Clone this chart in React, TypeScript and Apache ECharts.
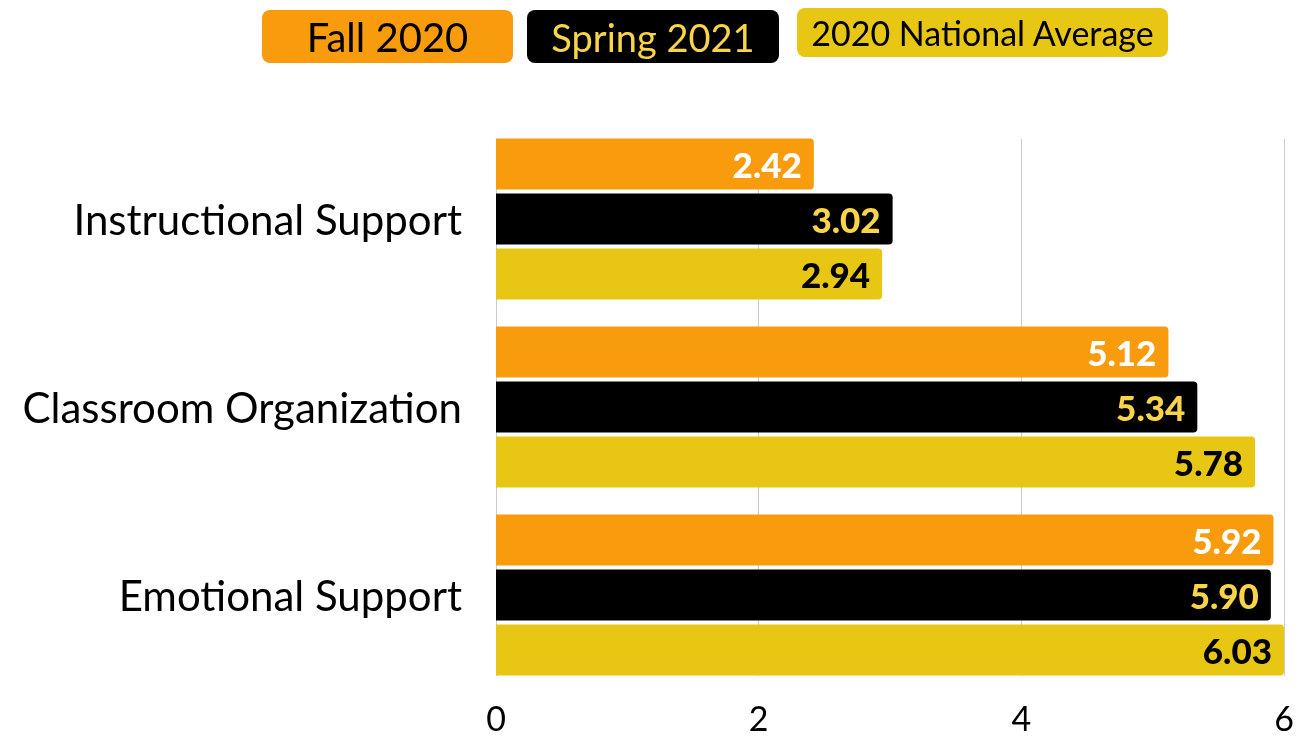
import React, { useEffect, useRef } from "react";
import * as echarts from "echarts";

const categories = ["Instructional Support", "Classroom Organization", "Emotional Support"];
const seriesNames = ["Fall 2020", "Spring 2021", "2020 National Average"];
const fall2020 = [2.42, 5.12, 5.92];
const spring2021 = [3.02, 5.34, 5.9];
const national2020 = [2.94, 5.78, 6.03];
const xTicks = [0, 2, 4, 6];

const ORANGE = "#F89C0E";
const BLACK = "#000000";
const YELLOW = "#E7C614";
const YELLOW_TEXT = "#F8D548";
const FONT = "Lato, 'Open Sans', sans-serif";

export default function App() {
  const ref = useRef<HTMLDivElement>(null);
  useEffect(() => {
    if (!ref.current) return;
    const chart = echarts.init(ref.current, undefined, { renderer: "svg" });
    const label = (color: string) => ({
      show: true,
      position: "insideRight",
      distance: 12,
      color,
      fontFamily: FONT,
      fontWeight: 900,
      fontSize: 35,
      formatter: (p: any) => Number(p.value).toFixed(2),
    });
    const mkSeries = (name: string, data: number[], color: string, lblColor: string) => ({
      name,
      type: "bar",
      data,
      xAxisIndex: 0,
      yAxisIndex: 0,
      barWidth: 51,
      barGap: "8%",
      itemStyle: { color, borderRadius: [0, 4, 4, 0] },
      label: label(lblColor),
    });
    const legendBox = (x: number, y: number, w: number, h: number, fill: string, text: string, tColor: string, fs: number) => ({
      type: "group",
      children: [
        { type: "rect", shape: { x, y, width: w, height: h, r: 8 }, style: { fill } },
        {
          type: "text",
          x: x + w / 2,
          y: y + h / 2,
          style: { text, fill: tColor, fontSize: fs, fontFamily: FONT, align: "center", verticalAlign: "middle" },
        },
      ],
    });
    const xMin = xTicks[0];
    const xMax = xTicks[xTicks.length - 1];
    chart.setOption({
      animation: false,
      grid: [
        { left: 496, right: 13, top: 125, bottom: 53, containLabel: false },
        { left: 496, right: 13, top: 139, bottom: 66, containLabel: false },
      ],
      xAxis: [
        {
          type: "value",
          gridIndex: 0,
          min: xMin,
          max: xMax,
          interval: 2,
          axisLine: { show: false },
          axisTick: { show: false },
          splitLine: { show: false },
          axisLabel: { show: false },
        },
        {
          type: "value",
          gridIndex: 1,
          min: xMin,
          max: xMax,
          interval: 2,
          axisLine: { show: false },
          axisTick: { show: false },
          splitLine: { show: true, lineStyle: { color: "#cccccc", width: 1 } },
          axisLabel: { fontSize: 34, color: "#000", fontFamily: FONT, margin: 24 },
        },
      ],
      yAxis: [
        {
          type: "category",
          gridIndex: 0,
          data: categories,
          inverse: true,
          axisLine: { show: false },
          axisTick: { show: false },
          axisLabel: { fontSize: 42, color: "#000", fontFamily: FONT, margin: 34 },
        },
        {
          type: "category",
          gridIndex: 1,
          data: categories,
          inverse: true,
          show: false,
        },
      ],
      series: [
        mkSeries(seriesNames[0], fall2020, ORANGE, "#ffffff"),
        mkSeries(seriesNames[1], spring2021, BLACK, YELLOW_TEXT),
        mkSeries(seriesNames[2], national2020, YELLOW, "#000000"),
      ],
      graphic: [
        legendBox(262, 10, 251, 53, ORANGE, seriesNames[0], "#000", 40),
        legendBox(527, 10, 252, 53, BLACK, seriesNames[1], YELLOW_TEXT, 38),
        legendBox(797, 8, 371, 49, YELLOW, seriesNames[2], "#000", 34),
      ],
    });
    return () => chart.dispose();
  }, []);
  return <div ref={ref} style={{ position: "fixed", left: 0, top: 0, width: 1297, height: 742 }} />;
}
